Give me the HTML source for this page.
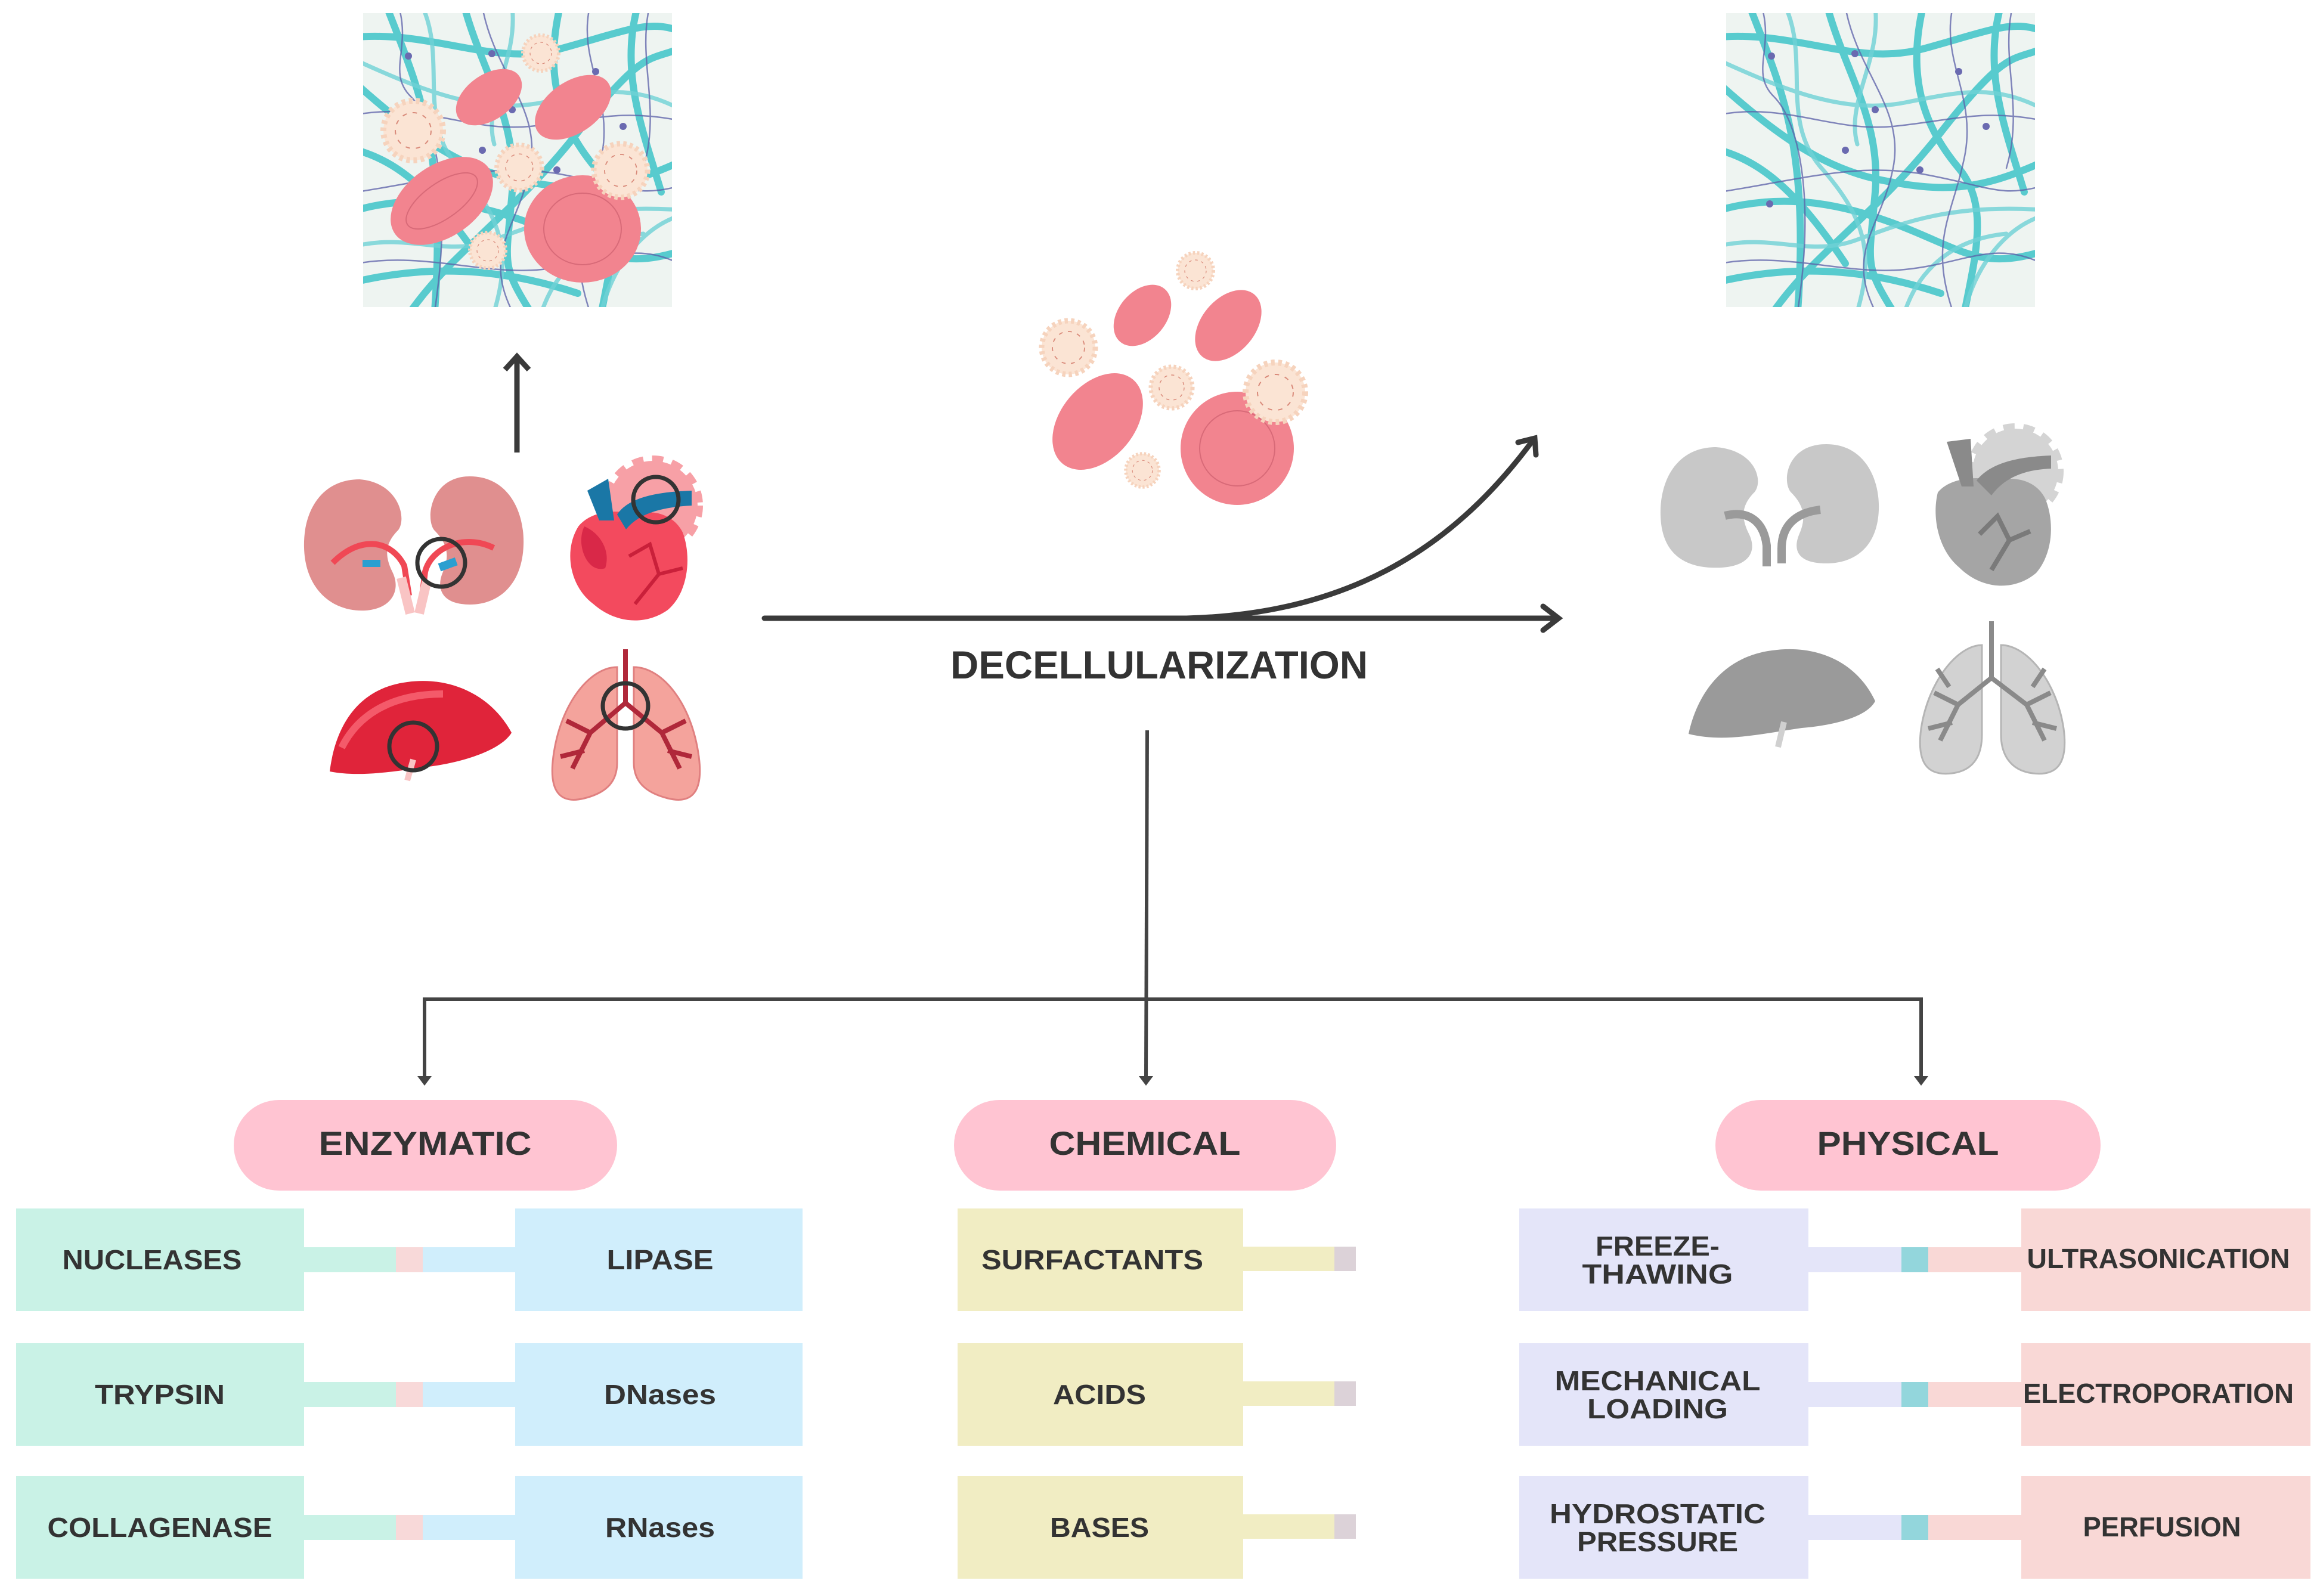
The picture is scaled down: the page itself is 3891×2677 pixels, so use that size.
<!DOCTYPE html>
<html><head><meta charset="utf-8"><style>
html,body{margin:0;padding:0;background:#fff}
svg{display:block}
text{font-family:"Liberation Sans",sans-serif;font-weight:bold;fill:#333}
</style></head><body>
<svg width="3891" height="2677" viewBox="0 0 3891 2677" xmlns="http://www.w3.org/2000/svg">
<defs>
<clipPath id="fc"><rect x="0" y="0" width="518" height="493"/></clipPath>
<g id="fib">
<rect x="0" y="0" width="518" height="493" fill="#eef4f1"/>
<g clip-path="url(#fc)" fill="none" stroke-linecap="round">
<g stroke="#3fc4c9" stroke-width="12" opacity="0.85">
<path d="M-10 40 C120 30 220 90 330 60 S480 10 530 30"/>
<path d="M-10 120 C80 200 160 260 260 280 S420 300 530 250"/>
<path d="M40 -10 C90 120 140 220 120 500"/>
<path d="M170 -10 C200 100 260 180 250 300 S230 420 280 500"/>
<path d="M330 -10 C300 120 340 200 390 260 S420 400 400 500"/>
<path d="M-10 330 C100 300 200 320 300 360 S430 430 530 400"/>
<path d="M-10 450 C120 420 240 430 360 470"/>
<path d="M460 -10 C430 100 470 200 500 300"/>
<path d="M80 500 C150 400 250 340 360 200 S480 80 530 60"/>
<path d="M-10 230 C60 250 120 300 200 420"/>
</g>
<g stroke="#6fd2d6" stroke-width="7" opacity="0.8">
<path d="M-10 80 C100 130 200 170 300 150 S450 120 530 160"/>
<path d="M100 -10 C140 80 90 180 160 260 S250 400 220 500"/>
<path d="M250 -10 C260 80 200 150 220 220"/>
<path d="M-10 390 C80 370 140 410 220 380 S380 320 530 330"/>
<path d="M400 500 C420 420 470 360 530 340"/>
<path d="M300 500 C320 440 370 380 470 370"/>
</g>
<g stroke="#5b5fa8" stroke-width="2.5" opacity="0.75">
<path d="M-10 170 C100 150 180 200 280 190 S430 160 530 180"/>
<path d="M60 -10 C80 60 40 100 80 140 S150 300 120 500"/>
<path d="M200 -10 C220 100 300 160 280 260 S200 400 250 500"/>
<path d="M-10 300 C120 280 220 250 330 270 S460 310 530 290"/>
<path d="M380 -10 C360 80 420 140 400 240 S340 380 380 500"/>
<path d="M-10 420 C100 400 200 440 300 430 S450 380 530 420"/>
<path d="M480 -10 C460 80 500 160 470 260"/>
</g>
<g fill="#6a6ab0"><circle cx="76" cy="72" r="6"/><circle cx="216" cy="68" r="6"/><circle cx="390" cy="98" r="6"/><circle cx="250" cy="162" r="6"/><circle cx="436" cy="190" r="6"/><circle cx="200" cy="230" r="6"/><circle cx="325" cy="263" r="6"/><circle cx="73" cy="320" r="6"/></g>
</g>
</g>
<g id="spk">
<circle r="1" fill="#fbe4d4" stroke="#f6d3bd" stroke-width="0.2" stroke-dasharray="0.12 0.12"/>
<circle r="0.6" fill="none" stroke="#d98a7a" stroke-width="0.04" stroke-dasharray="0.15 0.2"/>
</g>
</defs>

<g transform="translate(609,22)"><use href="#fib"/></g>
<g>
<ellipse cx="820" cy="163" rx="62" ry="38" transform="rotate(-35 820 163)" fill="#f2848f"/>
<ellipse cx="961" cy="180" rx="72" ry="43" transform="rotate(-35 961 180)" fill="#f2848f"/>
<ellipse cx="741" cy="337" rx="96" ry="60" transform="rotate(-35 741 337)" fill="#f2848f"/>
<ellipse cx="741" cy="337" rx="70" ry="30" transform="rotate(-35 741 337)" fill="none" stroke="#d86a78" stroke-width="2"/>
<ellipse cx="977" cy="384" rx="98" ry="90" fill="#f2848f"/>
<ellipse cx="977" cy="384" rx="65" ry="60" fill="none" stroke="#d86a78" stroke-width="2"/>
<use href="#spk" transform="translate(693,219) scale(50)"/>
<use href="#spk" transform="translate(871,281) scale(38)"/>
<use href="#spk" transform="translate(1041,286) scale(45)"/>
<use href="#spk" transform="translate(907,89) scale(30)"/>
<use href="#spk" transform="translate(818,420) scale(30)"/>
</g>

<g transform="translate(2895,22)"><use href="#fib"/></g>

<line x1="867" y1="759" x2="867" y2="602" stroke="#3a3a3a" stroke-width="9"/>
<polyline points="847,620 867,598 887,620" fill="none" stroke="#3a3a3a" stroke-width="9"/>

<!-- colored organs -->
<g transform="translate(508,799)">
<path d="M95 5 C30 5 0 60 2 120 C4 190 50 228 105 225 C150 222 165 190 150 160 C135 130 140 110 160 90 C175 70 160 10 95 5Z" fill="#e08f8f"/>
<path d="M280 0 C345 0 372 60 370 115 C368 180 330 215 280 215 C235 215 222 190 235 160 C248 130 240 110 220 90 C205 70 215 0 280 0Z" fill="#e08f8f"/>
<path d="M50 145 C100 95 150 110 170 150 L178 200" fill="none" stroke="#f04855" stroke-width="10"/>
<path d="M320 120 C270 95 215 120 205 160 L200 200" fill="none" stroke="#f04855" stroke-width="10"/>
<path d="M165 170 L180 230" stroke="#f9c4c4" stroke-width="16"/>
<path d="M208 175 L195 230" stroke="#f9c4c4" stroke-width="16"/>
<rect x="100" y="140" width="30" height="12" fill="#2a9fd0"/>
<rect x="228" y="140" width="30" height="14" fill="#2a9fd0" transform="rotate(-20 245 147)"/>
<circle cx="232" cy="145" r="40" fill="none" stroke="#333" stroke-width="7"/>
</g>
<g transform="translate(945,763)">
<circle cx="150" cy="85" r="75" fill="#f7a0a6" stroke="#f7a0a6" stroke-width="18" stroke-dasharray="18 14"/>
<path d="M25 120 C0 160 10 220 50 250 C90 285 140 285 175 260 C210 230 215 170 200 130 C185 100 150 90 120 100 C85 90 45 95 25 120Z" fill="#f34a5e"/>
<path d="M35 120 C20 150 40 200 70 190 C80 160 60 130 35 120Z" fill="#d92848"/>
<path d="M40 60 L60 110 L85 110 L75 40 Z" fill="#1a77a6"/>
<path d="M90 100 C110 70 160 62 215 60 L215 85 C160 88 125 100 105 125Z" fill="#1a77a6"/>
<path d="M110 170 L145 150 L160 200 L120 250 M160 200 L200 190" stroke="#c9203a" stroke-width="6" fill="none"/>
<circle cx="155" cy="75" r="38" fill="none" stroke="#333" stroke-width="7"/>
</g>
<g transform="translate(543,1134)">
<path d="M10 160 C20 80 60 20 140 10 C210 0 280 30 315 95 C300 120 250 140 190 150 C120 160 60 170 10 160Z" fill="#e0243a"/>
<path d="M30 120 C60 60 120 30 200 30" fill="none" stroke="#f45a6a" stroke-width="12"/>
<path d="M150 140 L140 175" stroke="#f9c4c4" stroke-width="10"/>
<circle cx="150" cy="118" r="40" fill="none" stroke="#333" stroke-width="7"/>
</g>
<g transform="translate(920,1089)">
<path d="M115 30 C70 30 20 90 8 180 C0 240 20 260 60 250 C100 240 115 220 115 190Z" fill="#f4a39c" stroke="#e08080" stroke-width="3"/>
<path d="M143 30 C190 30 240 90 252 180 C260 240 240 260 200 250 C160 240 143 220 143 190Z" fill="#f4a39c" stroke="#e08080" stroke-width="3"/>
<path d="M129 0 L129 90 M129 90 L70 140 L40 200 M129 90 L190 140 L220 200 M70 140 L30 120 M190 140 L230 120 M60 170 L20 180 M200 170 L240 180" stroke="#b0283a" stroke-width="8" fill="none"/>
<circle cx="129" cy="95" r="38" fill="none" stroke="#333" stroke-width="7"/>
</g>

<!-- grey organs -->
<g transform="translate(2783,745)">
<path d="M95 5 C30 5 0 60 2 120 C4 190 50 210 105 207 C150 204 165 180 150 150 C135 120 140 100 160 80 C175 60 160 10 95 5Z" fill="#c8c8c8"/>
<path d="M280 0 C345 0 370 60 368 110 C366 170 330 200 280 200 C235 200 222 180 235 150 C248 120 240 100 220 80 C205 60 215 0 280 0Z" fill="#c8c8c8"/>
<path d="M110 120 C150 110 175 130 180 170 L180 205" fill="none" stroke="#9a9a9a" stroke-width="14"/>
<path d="M270 110 C225 115 205 140 205 175 L205 200" fill="none" stroke="#9a9a9a" stroke-width="14"/>
</g>
<g transform="translate(3240,706)">
<circle cx="140" cy="85" r="72" fill="#d4d4d4" stroke="#d4d4d4" stroke-width="18" stroke-dasharray="18 14"/>
<path d="M10 120 C0 160 10 215 45 245 C85 285 140 285 175 255 C205 220 205 165 190 130 C175 100 140 92 110 100 C75 92 30 95 10 120Z" fill="#a5a5a5"/>
<path d="M25 35 L50 110 L70 110 L65 30 Z" fill="#8a8a8a"/>
<path d="M75 100 C100 68 150 60 200 58 L200 80 C150 82 120 98 100 125Z" fill="#8a8a8a"/>
<path d="M80 190 L110 160 L130 200 L100 250 M130 200 L165 185" stroke="#7a7a7a" stroke-width="8" fill="none"/>
</g>
<g transform="translate(2832,1081)">
<path d="M0 150 C15 80 60 20 140 10 C210 0 280 25 313 95 C300 120 250 135 190 140 C120 150 60 165 0 150Z" fill="#9a9a9a"/>
<path d="M160 130 L150 172" stroke="#d0d0d0" stroke-width="10"/>
</g>
<g transform="translate(3214,1042)">
<path d="M110 40 C70 40 20 100 8 180 C0 240 20 260 60 255 C100 250 110 220 110 190Z" fill="#d2d2d2" stroke="#b5b5b5" stroke-width="3"/>
<path d="M142 40 C185 40 235 100 247 180 C255 240 235 260 195 255 C155 250 142 220 142 190Z" fill="#d2d2d2" stroke="#b5b5b5" stroke-width="3"/>
<path d="M126 0 L126 95 M126 95 L70 140 L40 200 M126 95 L185 140 L215 200 M70 140 L30 120 M185 140 L225 120 M60 170 L20 180 M195 170 L235 180 M55 110 L35 80 M195 110 L215 80" stroke="#8a8a8a" stroke-width="8" fill="none"/>
</g>

<!-- center cells -->
<ellipse cx="1916" cy="529" rx="40" ry="58" transform="rotate(40 1916 529)" fill="#f2848f"/>
<ellipse cx="2060" cy="546" rx="45" ry="68" transform="rotate(40 2060 546)" fill="#f2848f"/>
<ellipse cx="1841" cy="707" rx="62" ry="92" transform="rotate(40 1841 707)" fill="#f2848f"/>
<circle cx="2075" cy="752" r="95" fill="#f2848f"/>
<circle cx="2075" cy="752" r="63" fill="none" stroke="#d86a78" stroke-width="2"/>
<use href="#spk" transform="translate(1792,583) scale(45)"/>
<use href="#spk" transform="translate(1965,650) scale(35)"/>
<use href="#spk" transform="translate(2139,658) scale(50)"/>
<use href="#spk" transform="translate(2005,454) scale(30)"/>
<use href="#spk" transform="translate(1916,789) scale(28)"/>

<g stroke="#3a3a3a" fill="none" stroke-width="9" stroke-linecap="round">
<line x1="1282" y1="1037" x2="2612" y2="1037"/>
<polyline points="2588,1017 2614,1037 2588,1057"/>
<path d="M1990 1037 C2250 1030 2430 930 2572 737"/>
<polyline points="2546,742 2574,735 2576,763"/>
</g>
<text x="1944" y="1138" font-size="66" text-anchor="middle" textLength="700" lengthAdjust="spacingAndGlyphs">DECELLULARIZATION</text>

<g stroke="#444" stroke-width="6" fill="none">
<line x1="1924" y1="1225" x2="1922" y2="1808"/>
<polyline points="712,1808 712,1676 3222,1676 3222,1808"/>
</g>
<g fill="#444">
<polygon points="700,1805 724,1805 712,1821"/>
<polygon points="1910,1805 1934,1805 1922,1821"/>
<polygon points="3210,1805 3234,1805 3222,1821"/>
</g>

<g fill="#ffc4d2">
<rect x="392" y="1845" width="643" height="152" rx="76"/>
<rect x="1600" y="1845" width="641" height="152" rx="76"/>
<rect x="2877" y="1845" width="646" height="152" rx="76"/>
</g>
<text x="713" y="1937" font-size="56" text-anchor="middle" textLength="357" lengthAdjust="spacingAndGlyphs">ENZYMATIC</text>
<text x="1920" y="1937" font-size="56" text-anchor="middle" textLength="321" lengthAdjust="spacingAndGlyphs">CHEMICAL</text>
<text x="3200" y="1937" font-size="56" text-anchor="middle" textLength="305" lengthAdjust="spacingAndGlyphs">PHYSICAL</text>

<g>
<g id="enzrow">
<rect x="27" y="2027" width="483" height="172" fill="#c9f2e6"/>
<rect x="510" y="2092" width="154" height="42" fill="#c9f2e6"/>
<rect x="664" y="2092" width="45" height="42" fill="#f8d9d9"/>
<rect x="709" y="2092" width="155" height="42" fill="#d0eefc"/>
<rect x="864" y="2027" width="482" height="172" fill="#d0eefc"/>
</g>
<use href="#enzrow" y="226"/>
<use href="#enzrow" y="449"/>
</g>
<g>
<g id="chemrow">
<rect x="1606" y="2027" width="479" height="172" fill="#f1edc3"/>
<rect x="2085" y="2091" width="153" height="41" fill="#f1edc3"/>
<rect x="2238" y="2091" width="36" height="41" fill="#dcd2d8"/>
</g>
<use href="#chemrow" y="226"/>
<use href="#chemrow" y="449"/>
</g>
<g>
<g id="phyrow">
<rect x="2548" y="2027" width="485" height="172" fill="#e4e5f9"/>
<rect x="3033" y="2092" width="156" height="42" fill="#e4e5f9"/>
<rect x="3189" y="2092" width="45" height="42" fill="#93d6dc"/>
<rect x="3234" y="2092" width="156" height="42" fill="#f9d8d6"/>
<rect x="3390" y="2027" width="485" height="172" fill="#f9d8d6"/>
</g>
<use href="#phyrow" y="226"/>
<use href="#phyrow" y="449"/>
</g>

<g font-size="46" text-anchor="middle">
<text x="255" y="2129" textLength="301" lengthAdjust="spacingAndGlyphs">NUCLEASES</text>
<text x="268" y="2355" textLength="218" lengthAdjust="spacingAndGlyphs">TRYPSIN</text>
<text x="268" y="2578" textLength="377" lengthAdjust="spacingAndGlyphs">COLLAGENASE</text>
<text x="1107" y="2129" textLength="179" lengthAdjust="spacingAndGlyphs">LIPASE</text>
<text x="1107" y="2355" textLength="188" lengthAdjust="spacingAndGlyphs">DNases</text>
<text x="1107" y="2578" textLength="184" lengthAdjust="spacingAndGlyphs">RNases</text>
<text x="1832" y="2129" textLength="372" lengthAdjust="spacingAndGlyphs">SURFACTANTS</text>
<text x="1844" y="2355" textLength="156" lengthAdjust="spacingAndGlyphs">ACIDS</text>
<text x="1844" y="2578" textLength="166" lengthAdjust="spacingAndGlyphs">BASES</text>
<text x="2780" y="2106" textLength="208" lengthAdjust="spacingAndGlyphs">FREEZE-</text>
<text x="2780" y="2153" textLength="253" lengthAdjust="spacingAndGlyphs">THAWING</text>
<text x="2780" y="2332" textLength="345" lengthAdjust="spacingAndGlyphs">MECHANICAL</text>
<text x="2780" y="2379" textLength="236" lengthAdjust="spacingAndGlyphs">LOADING</text>
<text x="2780" y="2555" textLength="362" lengthAdjust="spacingAndGlyphs">HYDROSTATIC</text>
<text x="2780" y="2602" textLength="270" lengthAdjust="spacingAndGlyphs">PRESSURE</text>
<text x="3620" y="2127" textLength="441" lengthAdjust="spacingAndGlyphs">ULTRASONICATION</text>
<text x="3620" y="2353" textLength="454" lengthAdjust="spacingAndGlyphs">ELECTROPORATION</text>
<text x="3626" y="2577" textLength="265" lengthAdjust="spacingAndGlyphs">PERFUSION</text>
</g>
</svg>
</body></html>
